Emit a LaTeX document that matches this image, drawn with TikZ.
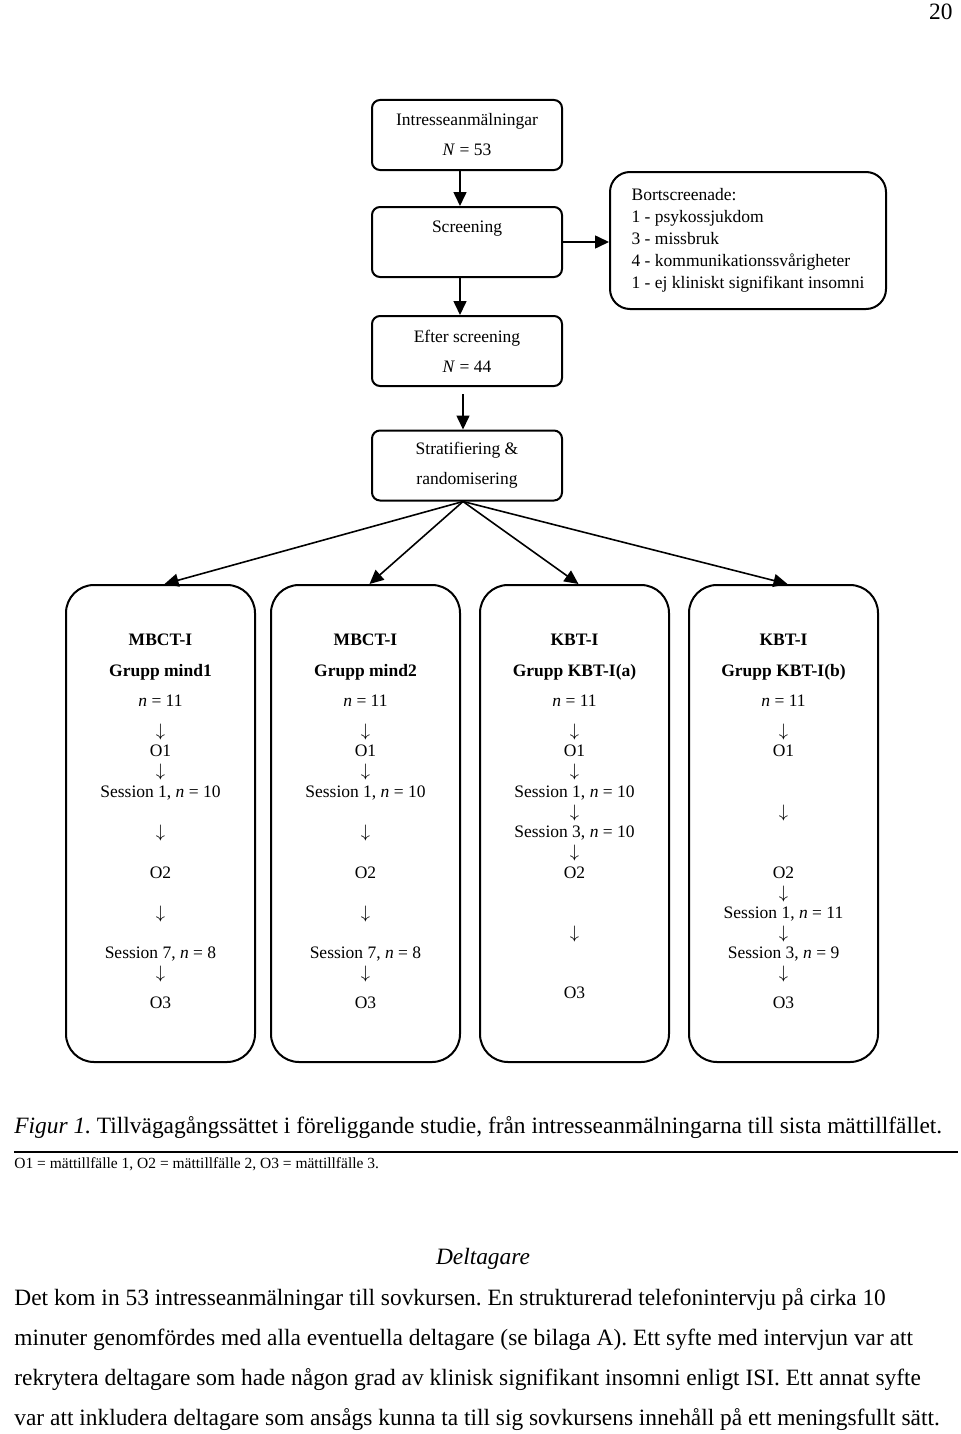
\documentclass[tikz,border=0pt]{standalone}
\usepackage{fontspec}
\setmainfont{Liberation Serif}
\usetikzlibrary{arrows.meta, positioning, calc}

\newcommand{\darr}{$\downarrow$}
\frenchspacing

\begin{document}
\begin{tikzpicture}[x=0.5pt, y=-0.5pt,
    flowbox/.style={rectangle, draw, line width=1pt, rounded corners=4pt, minimum width=95pt, minimum height=35pt, align=center, inner sep=2pt, font=\fontsize{8.75}{15}\selectfont},
    listbox/.style={rectangle, draw, line width=1pt, rounded corners=10pt, minimum width=138pt, minimum height=68.5pt, align=left, font=\fontsize{8.75}{11}\selectfont},
    groupbox/.style={rectangle, draw, line width=1pt, rounded corners=14pt, minimum width=94.5pt, minimum height=238.5pt},
    flowtext/.style={anchor=base, inner sep=0pt, font=\fontsize{8.75}{10}\selectfont},
    headtext/.style={anchor=base, inner sep=0pt, font=\fontsize{8.75}{10}\selectfont\bfseries},
    bodytext/.style={anchor=base west, inner sep=0pt, font=\fontsize{11.7}{20}\selectfont},
    arrow/.style={-{Triangle[length=7pt, width=6.5pt]}, line width=0.8pt}]

    \useasboundingbox (0,0) rectangle (960,1434);

    % Page number
    \node[anchor=base east, inner sep=0pt, font=\fontsize{11.7}{20}\selectfont] (page) at (953,20) {20};

    % Top of the flow
    \node[flowbox] (intresse) at (467,135) {Intresseanmälningar\\\textit{N} = 53};
    \node[flowbox] (screening) at (467,242) {Screening\\~};
    \node[listbox] (bort) at (748,240.5) {Bortscreenade:\\1 - psykossjukdom\\3 - missbruk\\4 - kommunikationssvårigheter\\1 - ej kliniskt signifikant insomni};
    \node[flowbox] (efter) at (467,351) {Efter screening\\\textit{N} = 44};
    \node[flowbox] (strat) at (467,465.5) {Stratifiering \&\\randomisering};

    % Groups
    \foreach \g/\x/\kind/\grp in {1/160.5/MBCT-I/Grupp mind1, 2/365.5/MBCT-I/Grupp mind2, 3/574.5/KBT-I/Grupp KBT-I(a), 4/783.5/KBT-I/Grupp KBT-I(b)} {
        \node[groupbox] (g\g) at (\x,823.5) {};
        \node[headtext] (kind\g) at (\x,645) {\kind};
        \node[headtext] (grp\g) at (\x,676) {\grp};
        \node[flowtext] (n\g) at (\x,706) {\textit{n} = 11};
        \node[flowtext] (da\g) at (\x,736) {\darr};
        \node[flowtext] (oa\g) at (\x,756) {O1};
    }

    % Steps in the MBCT-I groups
    \foreach \g/\x in {1/160.5, 2/365.5}
        \foreach \y/\t in {776/\darr, 797/{Session 1, \textit{n} = 10}, 837/\darr, 878/O2, 918/\darr, 958/{Session 7, \textit{n} = 8}, 978/\darr, 1008/O3}
            \node[flowtext] (s\g-\y) at (\x,\y) {\t};

    % Steps in KBT-I(a)
    \foreach \y/\t in {776/\darr, 797/{Session 1, \textit{n} = 10}, 817/\darr, 837/{Session 3, \textit{n} = 10}, 857/\darr, 878/O2, 938/\darr, 998/O3}
        \node[flowtext] (s3-\y) at (574.5,\y) {\t};

    % Steps in KBT-I(b)
    \foreach \y/\t in {817/\darr, 878/O2, 898/\darr, 918/{Session 1, \textit{n} = 11}, 938/\darr, 958/{Session 3, \textit{n} = 9}, 978/\darr, 1008/O3}
        \node[flowtext] (s4-\y) at (783.5,\y) {\t};

    % Arrows
    \draw[arrow] ([xshift=-3.5pt]intresse.south) -- ([xshift=-3.5pt]screening.north);
    \draw[arrow] (screening.east) -- (screening.east -| bort.west);
    \draw[arrow] ([xshift=-3.5pt]screening.south) -- ([xshift=-3.5pt]efter.north);
    \draw[arrow, shorten <=3.5pt] ([xshift=-2pt]efter.south) -- ([xshift=-2pt]strat.north);
    \foreach \g in {1,...,4}
        \draw[arrow] ([xshift=-2pt]strat.south) -- ([xshift=2pt]g\g.north);

    % Caption and note
    \node[bodytext] (caption) at (14,1133) {\textit{Figur 1.} Tillvägagångssättet i föreliggande studie, från intresseanmälningarna till sista mättillfället.};
    \coordinate (ruleL) at (14,1152);
    \coordinate (ruleR) at (958,1152);
    \draw[line width=0.7pt] (ruleL) -- (ruleR);
    \node[anchor=base west, inner sep=0pt, font=\fontsize{7.75}{9}\selectfont] (note) at (14,1168) {O1 = mättillfälle 1, O2 = mättillfälle 2, O3 = mättillfälle 3.};

    % Section text
    \node[anchor=base, inner sep=0pt, font=\fontsize{11.7}{20}\selectfont\itshape] (deltagare) at (483,1264) {Deltagare};
    \node[bodytext] (line1) at (14,1305) {Det kom in 53 intresseanmälningar till sovkursen. En strukturerad telefonintervju på cirka 10};
    \node[bodytext] (line2) at (14,1345) {minuter genomfördes med alla eventuella deltagare (se bilaga A). Ett syfte med intervjun var att};
    \node[bodytext] (line3) at (14,1385) {rekrytera deltagare som hade någon grad av klinisk signifikant insomni enligt ISI. Ett annat syfte};
    \node[bodytext] (line4) at (14,1425) {var att inkludera deltagare som ansågs kunna ta till sig sovkursens innehåll på ett meningsfullt sätt.};

\end{tikzpicture}
\end{document}
